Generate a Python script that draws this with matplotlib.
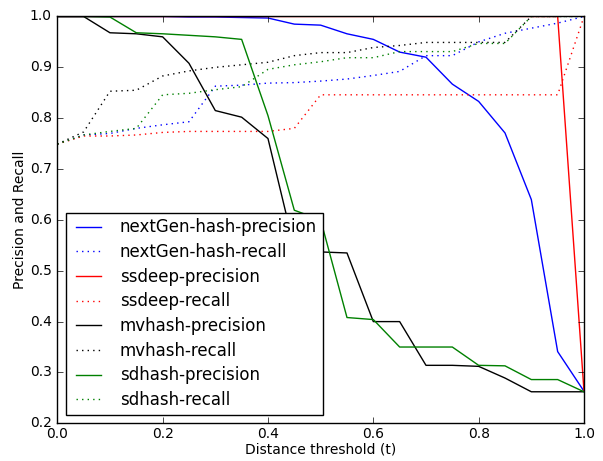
import matplotlib
matplotlib.use("Agg")
import matplotlib.pyplot as plt

plt.style.use("classic")
plt.rcParams["font.family"] = ["DejaVu Sans"]

thresholds = [0.0, 0.05, 0.1, 0.15, 0.2, 0.25, 0.3, 0.35, 0.4, 0.45, 0.5,
              0.55, 0.6, 0.65, 0.7, 0.75, 0.8, 0.85, 0.9, 0.95, 1.0]

nextgen_precision = [1.0, 1.0, 1.0, 1.0, 1.0, 0.999, 0.999, 0.998, 0.997, 0.985, 0.983,
                     0.966, 0.955, 0.930, 0.920, 0.867, 0.833, 0.771, 0.640, 0.341, 0.263]
nextgen_recall = [0.749, 0.767, 0.770, 0.780, 0.787, 0.793, 0.863, 0.865, 0.869, 0.870, 0.873,
                  0.877, 0.884, 0.892, 0.923, 0.923, 0.950, 0.967, 0.977, 0.987, 1.0]
ssdeep_precision = [1.0, 1.0, 1.0, 1.0, 1.0, 1.0, 1.0, 1.0, 1.0, 1.0, 1.0,
                    1.0, 1.0, 1.0, 1.0, 1.0, 1.0, 1.0, 1.0, 1.0, 0.263]
ssdeep_recall = [0.749, 0.765, 0.765, 0.767, 0.772, 0.774, 0.774, 0.774, 0.774, 0.780, 0.846,
                 0.846, 0.846, 0.846, 0.846, 0.846, 0.846, 0.846, 0.846, 0.846, 1.0]
mvhash_precision = [1.0, 1.0, 0.968, 0.966, 0.960, 0.908, 0.815, 0.802, 0.760, 0.545, 0.537,
                    0.535, 0.400, 0.400, 0.314, 0.314, 0.312, 0.289, 0.262, 0.262, 0.262]
mvhash_recall = [0.749, 0.773, 0.853, 0.855, 0.883, 0.893, 0.900, 0.905, 0.910, 0.923, 0.929,
                 0.929, 0.939, 0.943, 0.949, 0.949, 0.949, 0.949, 1.0, 1.0, 1.0]
sdhash_precision = [1.0, 1.0, 0.999, 0.968, 0.966, 0.963, 0.960, 0.955, 0.805, 0.619, 0.600,
                    0.408, 0.404, 0.350, 0.350, 0.350, 0.314, 0.313, 0.286, 0.286, 0.262]
sdhash_recall = [0.749, 0.767, 0.774, 0.780, 0.846, 0.849, 0.856, 0.862, 0.896, 0.905, 0.911,
                 0.919, 0.919, 0.931, 0.931, 0.931, 0.947, 0.947, 1.0, 1.0, 1.0]

series = [
    ("nextGen-hash-precision", nextgen_precision, "b", "-"),
    ("nextGen-hash-recall", nextgen_recall, "b", ":"),
    ("ssdeep-precision", ssdeep_precision, "r", "-"),
    ("ssdeep-recall", ssdeep_recall, "r", ":"),
    ("mvhash-precision", mvhash_precision, "k", "-"),
    ("mvhash-recall", mvhash_recall, "k", ":"),
    ("sdhash-precision", sdhash_precision, "g", "-"),
    ("sdhash-recall", sdhash_recall, "g", ":"),
]

fig = plt.figure(figsize=(6.03, 4.61), dpi=100, facecolor="white")
ax = fig.add_axes([57.3 / 603, (461 - 423.3) / 461, (584 - 57.3) / 603, (423.3 - 16.5) / 461])
ax.set_facecolor("white")

for label, vals, color, ls in series:
    ax.plot(thresholds, vals, color=color, linestyle=ls, linewidth=1.0, label=label)

ax.set_xlim(0, 1)
ax.set_ylim(0.2, 1.0)
ax.set_xticks([0.0, 0.2, 0.4, 0.6, 0.8, 1.0])
ax.set_yticks([0.2, 0.3, 0.4, 0.5, 0.6, 0.7, 0.8, 0.9, 1.0])
ax.tick_params(labelsize=10, direction="in", top=True, right=True)
ax.tick_params(axis="x", pad=3)
ax.set_xlabel("Distance threshold (t)", fontsize=10, labelpad=1)
ax.set_ylabel("Precision and Recall", fontsize=10, labelpad=2)

leg = ax.legend(loc="lower left", fontsize=12, frameon=True, fancybox=False,
                borderaxespad=0.5, labelspacing=0.4, borderpad=0.35,
                handlelength=2.1, handletextpad=0.8)
leg.get_frame().set_edgecolor("black")
leg.get_frame().set_facecolor("white")

fig.savefig("out.png", dpi=100, facecolor="white")
